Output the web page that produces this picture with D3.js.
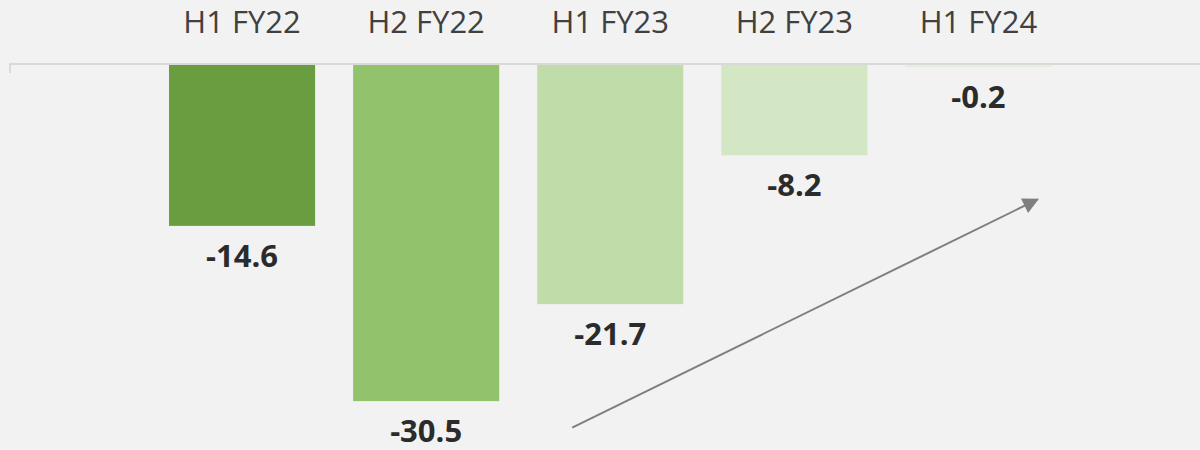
<!DOCTYPE html>
<html>
<head>
<meta charset="utf-8">
<script src="https://cdn.jsdelivr.net/npm/d3@7"></script>
<style>
  html, body { margin: 0; padding: 0; background: #f2f2f2; }
  #chart { width: 1200px; height: 450px; }
  text { font-family: "Open Sans", sans-serif; }
</style>
</head>
<body>
<div id="chart"></div>
<script>
// data
var periods = ["H1 FY22", "H2 FY22", "H1 FY23", "H2 FY23", "H1 FY24"];
var values = [-14.6, -30.5, -21.7, -8.2, -0.2];
var barColors = ["#6a9d3f", "#92c26c", "#c0dca8", "#d4e7c5", "#e4f0da"];

// trend arrow, in data terms (value axis)
var arrowFrom = -32.9, arrowTo = -12.2;

var width = 1200, height = 450;

var svg = d3.select("#chart").append("svg")
    .attr("width", width)
    .attr("height", height);

svg.append("rect")
    .attr("width", width)
    .attr("height", height)
    .style("fill", "#f2f2f2");

//scales
var x = d3.scaleBand()
    .domain(periods)
    .range([169, 1051.5])
    .paddingInner(0.2065)
    .paddingOuter(0);

var y = d3.scaleLinear()
    .domain([0, -35])
    .range([65, 65 + 35 * 11.02]);

//bars
svg.selectAll(".bar")
    .data(values)
    .enter().append("rect")
    .attr("class", "bar")
    .attr("x", function(d, i){ return x(periods[i]); })
    .attr("y", y(0))
    .attr("width", x.bandwidth())
    .attr("height", function(d){ return y(d) - y(0); })
    .style("fill", function(d, i){ return barColors[i]; });

//axis line along the top (zero line)
svg.append("line")
    .attr("x1", 10).attr("x2", width)
    .attr("y1", y(0) - 1).attr("y2", y(0) - 1)
    .style("stroke", "#d9d9d9")
    .style("stroke-width", 2);

svg.append("line")
    .attr("x1", 10).attr("x2", 10)
    .attr("y1", y(0) - 2).attr("y2", y(0) + 8)
    .style("stroke", "#d9d9d9")
    .style("stroke-width", 2);

//category labels on top
svg.selectAll(".cat")
    .data(periods)
    .enter().append("text")
    .attr("class", "cat")
    .attr("x", function(d){ return x(d) + x.bandwidth() / 2; })
    .attr("y", 33)
    .attr("text-anchor", "middle")
    .style("font-size", "31px")
    .style("fill", "#404040")
    .text(function(d){ return d; });

//value labels under bars
svg.selectAll(".val")
    .data(values)
    .enter().append("text")
    .attr("class", "val")
    .attr("x", function(d, i){ return x(periods[i]) + x.bandwidth() / 2; })
    .attr("y", function(d){ return y(d) + 41; })
    .attr("text-anchor", "middle")
    .style("font-size", "31px")
    .style("font-weight", "bold")
    .style("fill", "#2b2b2b")
    .text(function(d){ return d.toFixed(1); });

//arrow
svg.append("defs").append("marker")
    .attr("id", "head")
    .attr("viewBox", "0 0 10 10")
    .attr("refX", 9).attr("refY", 5)
    .attr("markerWidth", 9).attr("markerHeight", 8)
    .attr("markerUnits", "strokeWidth")
    .attr("orient", "auto")
  .append("path")
    .attr("d", "M0,0 L10,5 L0,10 Z")
    .style("fill", "#7f7f7f");

svg.append("line")
    .attr("x1", x("H1 FY23") + 35)
    .attr("y1", y(arrowFrom))
    .attr("x2", x("H1 FY24") + x.bandwidth() - 14)
    .attr("y2", y(arrowTo))
    .style("stroke", "#7f7f7f")
    .style("stroke-width", 2)
    .attr("marker-end", "url(#head)");
</script>
</body>
</html>
